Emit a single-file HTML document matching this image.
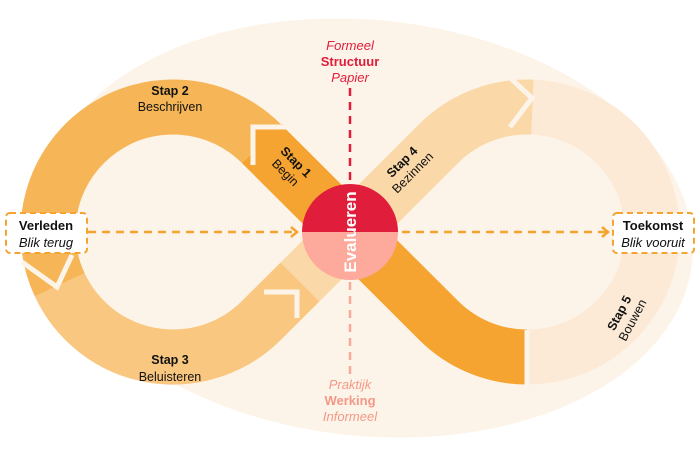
<!DOCTYPE html>
<html><head><meta charset="utf-8"><style>
html,body{margin:0;padding:0;background:#fff;width:700px;height:456px;overflow:hidden;}
svg{display:block;font-family:"Liberation Sans",sans-serif;}
</style></head><body>
<svg width="700" height="456" viewBox="0 0 700 456" xmlns="http://www.w3.org/2000/svg" style="overflow:hidden">
<ellipse cx="368" cy="228" rx="326" ry="208" fill="#fdf4e9" transform="rotate(6 368 228)"/>
<g fill="none" stroke-width="55" stroke-linecap="butt">
<path d="M532.4,107.1 A125,125 0 0 1 527,357" stroke="#fcead6"/>
<path d="M300,282 L438.6,143.6 A125,125 0 0 1 532.4,107.1" stroke="#fad8a8"/>
<path d="M59.7,284.8 A125,125 0 0 0 261.4,320.4 L300,282" stroke="#f9c77f"/>
<path d="M261.4,143.6 A125,125 0 0 0 59.7,284.8" stroke="#f6b657"/>
<path d="M261.4,143.6 L438.6,320.4 A125,125 0 0 0 527,357" stroke="#f5a331"/>
</g>
<polygon points="283,124 255,129 255,160 242,163" fill="#f5a331"/>
<g fill="none" stroke="#fdf4e9" stroke-width="5">
<polyline points="295,127 253,127 253,165"/>
<polyline points="22,262 57,287 72,255"/>
<polyline points="264,292 297,292 297,318"/>
<polyline points="507,75 532,98 510,127"/>
<polyline points="527,330 527,385"/>
</g>
<g stroke-width="2.5" stroke-dasharray="8,6" fill="none">
<line x1="88" y1="232" x2="296" y2="232" stroke="#f5a331"/>
<line x1="402" y1="232" x2="606" y2="232" stroke="#f5a331"/>
<line x1="350" y1="88" x2="350" y2="184" stroke="#e01e3c"/>
<line x1="350" y1="282" x2="350" y2="376" stroke="#f9a99a"/>
</g>
<g fill="none" stroke="#f5a331" stroke-width="2.5">
<polyline points="291,227 297,232 291,237"/>
<polyline points="602,227 608,232 602,237"/>
</g>
<path d="M302,232 A48,48 0 0 1 398,232 Z" fill="#e01e3c"/>
<path d="M302,232 A48,48 0 0 0 398,232 Z" fill="#fda99b"/>
<text x="0" y="0" transform="translate(356,232) rotate(-90)" text-anchor="middle" fill="#fff" font-weight="bold" font-size="17">Evalueren</text>
<rect x="6" y="213" width="81" height="40" rx="4" fill="#fff" stroke="#f5a331" stroke-width="2" stroke-dasharray="6,4"/>
<text x="46" y="230" text-anchor="middle" font-weight="bold" font-size="13" fill="#111">Verleden</text>
<text x="46" y="247" text-anchor="middle" font-style="italic" font-size="13" fill="#111">Blik terug</text>
<rect x="613" y="213" width="81" height="40" rx="4" fill="#fff" stroke="#f5a331" stroke-width="2" stroke-dasharray="6,4"/>
<text x="653" y="230" text-anchor="middle" font-weight="bold" font-size="13" fill="#111">Toekomst</text>
<text x="653" y="247" text-anchor="middle" font-style="italic" font-size="13" fill="#111">Blik vooruit</text>
<g text-anchor="middle" font-size="13">
<text x="350" y="50" font-style="italic" fill="#e01e3c">Formeel</text>
<text x="350" y="66" font-weight="bold" fill="#e01e3c">Structuur</text>
<text x="350" y="82" font-style="italic" fill="#e01e3c">Papier</text>
<text x="350" y="389" font-style="italic" fill="#f49886">Praktijk</text>
<text x="350" y="405" font-weight="bold" fill="#f49886">Werking</text>
<text x="350" y="421" font-style="italic" fill="#f49886">Informeel</text>
</g>
<g text-anchor="middle" font-size="12.5" fill="#111">
<text x="170" y="95" font-weight="bold">Stap 2</text>
<text x="170" y="111">Beschrijven</text>
<text x="170" y="364" font-weight="bold">Stap 3</text>
<text x="170" y="381">Beluisteren</text>
<g transform="translate(293,165) rotate(45)"><text x="0" y="0" font-weight="bold">Stap 1</text><text x="0" y="15">Begin</text></g>
<g transform="translate(405,165) rotate(-45)"><text x="0" y="0" font-weight="bold">Stap 4</text><text x="0" y="15">Bezinnen</text></g>
<g transform="translate(623,315) rotate(-62)"><text x="0" y="0" font-weight="bold">Stap 5</text><text x="0" y="15">Bouwen</text></g>
</g>
</svg>
</body></html>
